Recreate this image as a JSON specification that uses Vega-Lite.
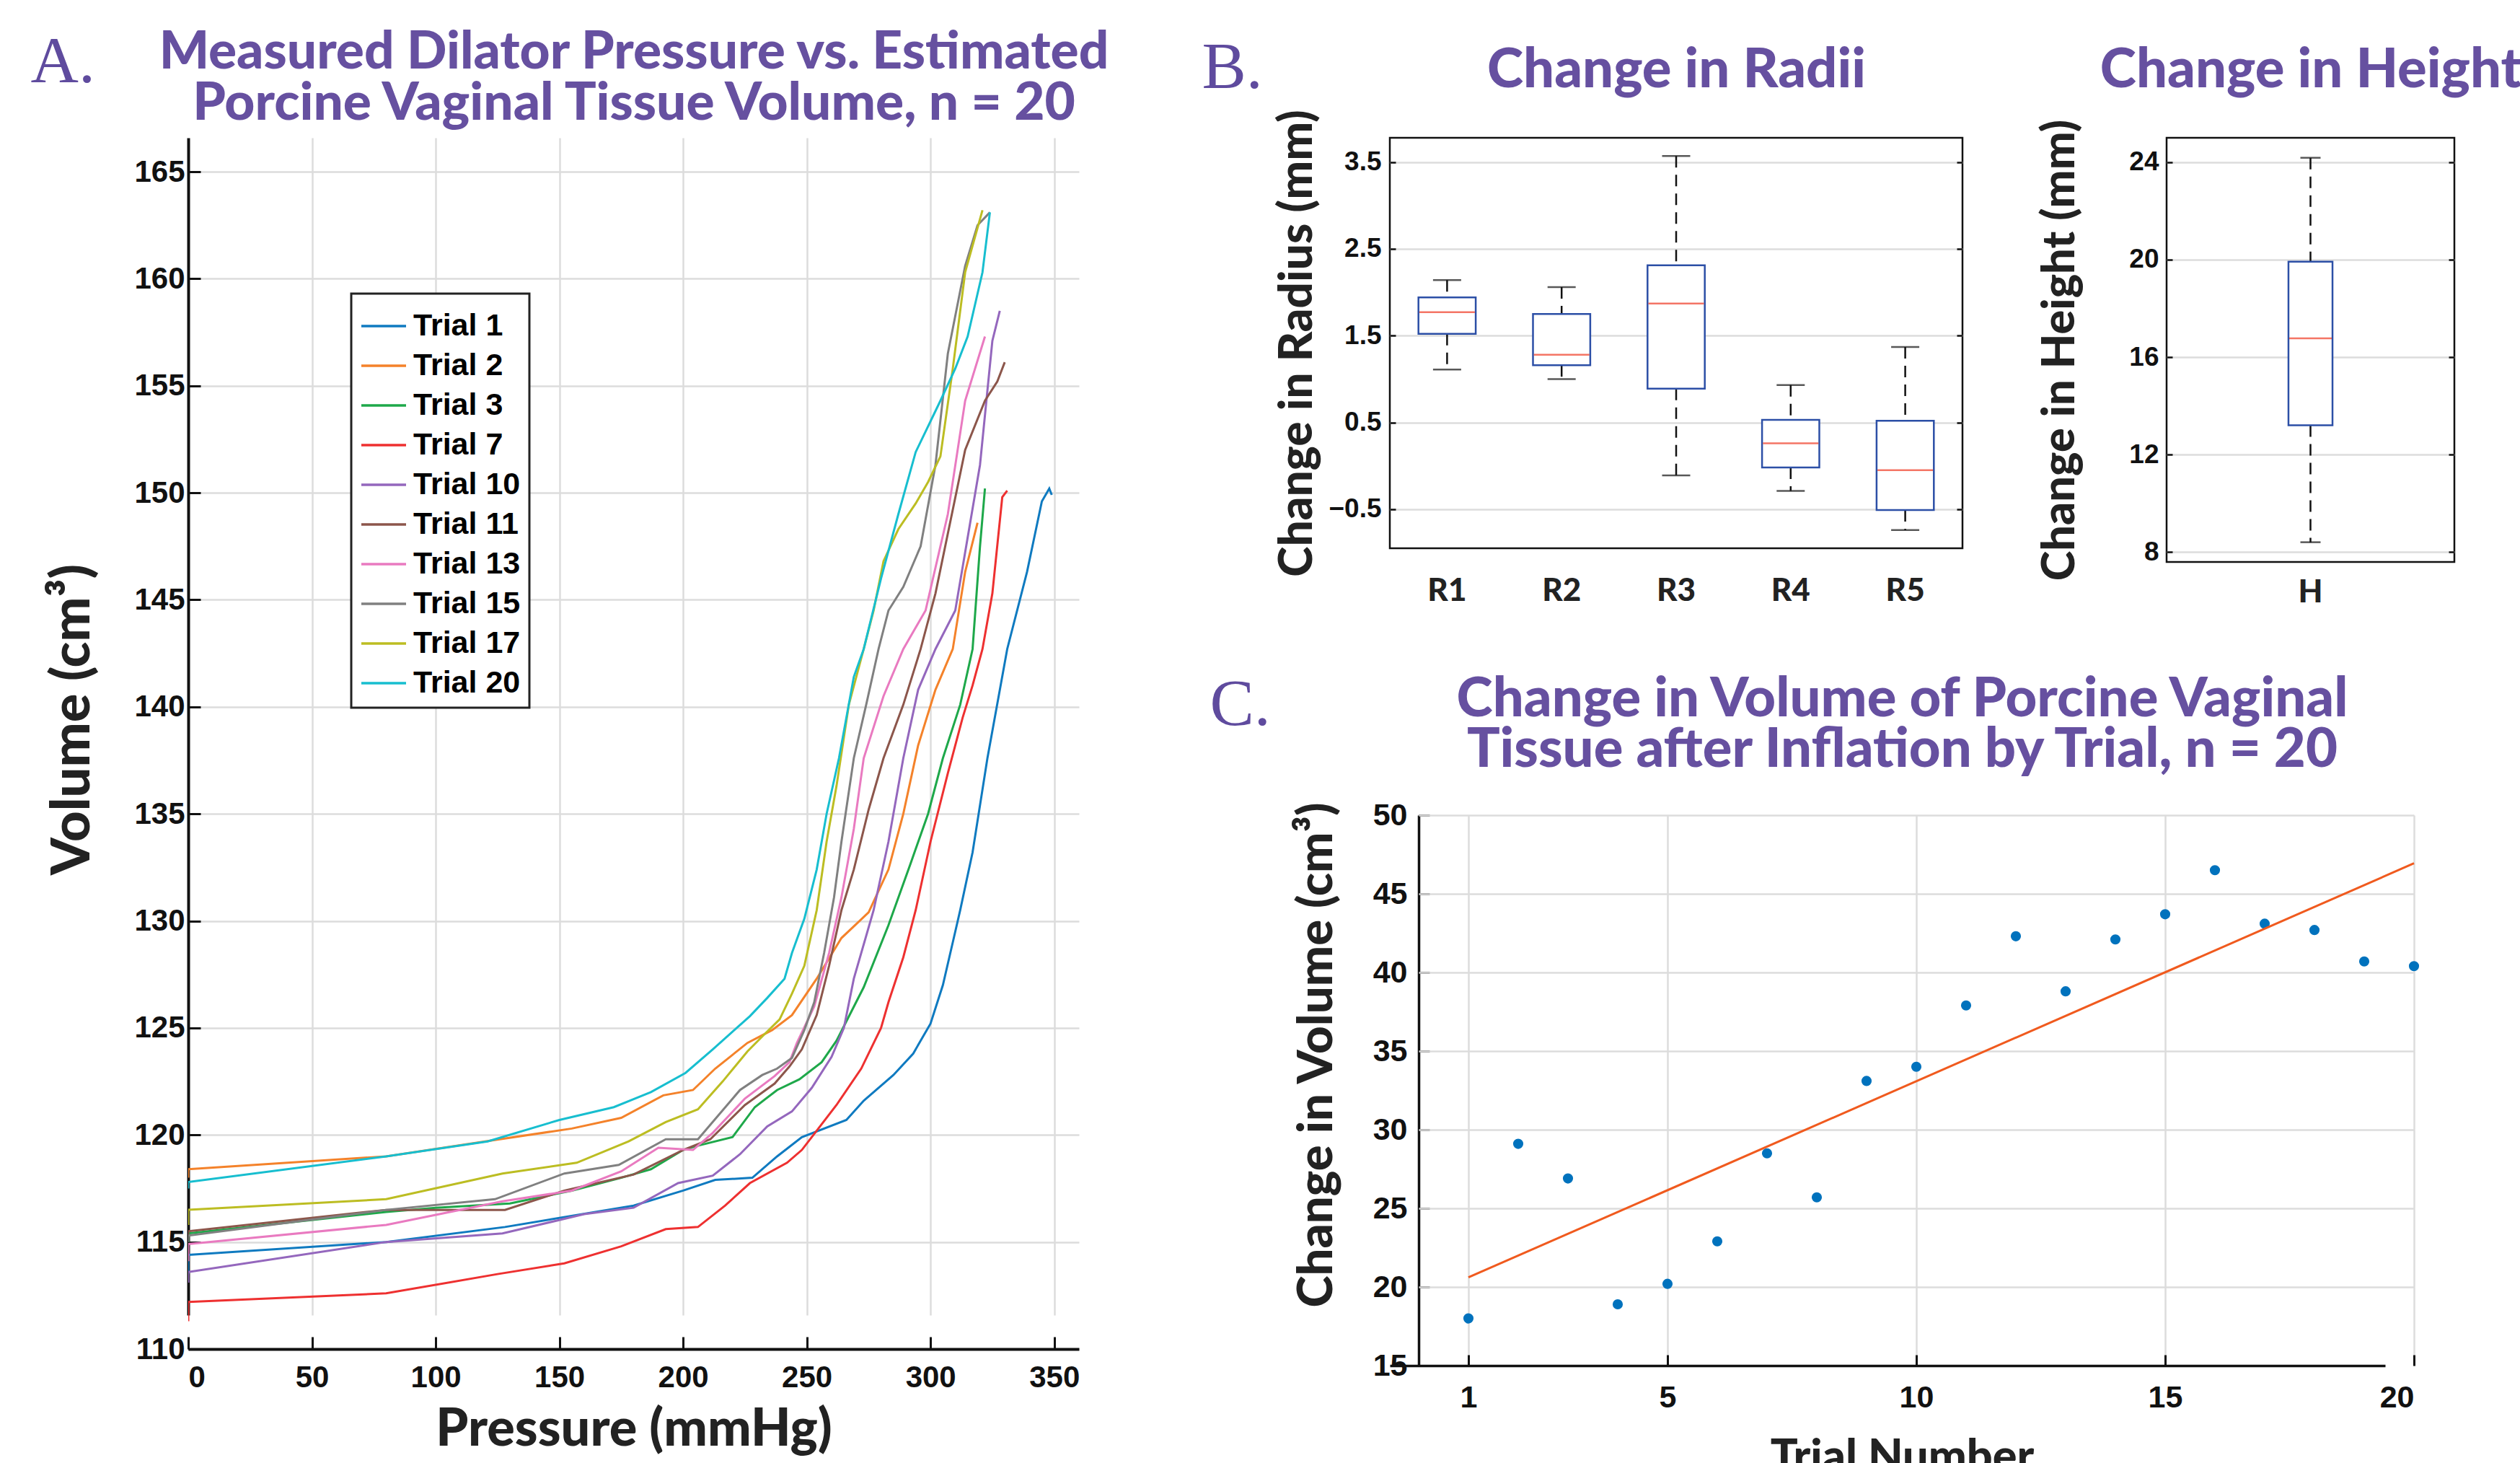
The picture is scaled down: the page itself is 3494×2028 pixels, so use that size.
{
  "$schema": "https://vega.github.io/schema/vega-lite/v6.json",
  "background": "white",
  "padding": {"left": 42, "top": 36, "right": 0, "bottom": 0},
  "columns": 2,
  "align": "none",
  "spacing": 125,
  "config": {
    "font": "Liberation Sans",
    "view": {"stroke": null},
    "axis": {
      "labelFont": "Liberation Sans", "labelFontWeight": "bold", "labelColor": "#111",
      "titleFont": "Lato", "titleFontWeight": 900, "titleColor": "#222",
      "gridColor": "#dcdcdc", "gridWidth": 2.5, "domainColor": "#111", "tickColor": "#111"
    },
    "legend": {"strokeWidth": 3}
  },
  "datasets": {
    "curves": [
      {"trial": "Trial 1", "p": 0, "v": 113.5}, {"trial": "Trial 1", "p": 0, "v": 114.4}, {"trial": "Trial 1", "p": 80, "v": 115.0}, {"trial": "Trial 1", "p": 128, "v": 115.7}, {"trial": "Trial 1", "p": 180, "v": 116.7}, {"trial": "Trial 1", "p": 200, "v": 117.4}, {"trial": "Trial 1", "p": 213, "v": 117.9}, {"trial": "Trial 1", "p": 228, "v": 118.0}, {"trial": "Trial 1", "p": 238, "v": 119.0}, {"trial": "Trial 1", "p": 248, "v": 119.9}, {"trial": "Trial 1", "p": 266, "v": 120.7}, {"trial": "Trial 1", "p": 273, "v": 121.6}, {"trial": "Trial 1", "p": 285, "v": 122.8}, {"trial": "Trial 1", "p": 293, "v": 123.8}, {"trial": "Trial 1", "p": 300, "v": 125.2}, {"trial": "Trial 1", "p": 305, "v": 127.0}, {"trial": "Trial 1", "p": 309, "v": 129.0}, {"trial": "Trial 1", "p": 312, "v": 130.5}, {"trial": "Trial 1", "p": 317, "v": 133.2}, {"trial": "Trial 1", "p": 323, "v": 137.6}, {"trial": "Trial 1", "p": 331, "v": 142.7}, {"trial": "Trial 1", "p": 339, "v": 146.3}, {"trial": "Trial 1", "p": 345, "v": 149.6}, {"trial": "Trial 1", "p": 348, "v": 150.2}, {"trial": "Trial 1", "p": 349, "v": 149.9},
      {"trial": "Trial 2", "p": 0, "v": 118.0}, {"trial": "Trial 2", "p": 0, "v": 118.4}, {"trial": "Trial 2", "p": 80, "v": 119.0}, {"trial": "Trial 2", "p": 120, "v": 119.7}, {"trial": "Trial 2", "p": 155, "v": 120.3}, {"trial": "Trial 2", "p": 175, "v": 120.8}, {"trial": "Trial 2", "p": 192, "v": 121.85}, {"trial": "Trial 2", "p": 204, "v": 122.1}, {"trial": "Trial 2", "p": 213, "v": 123.1}, {"trial": "Trial 2", "p": 226, "v": 124.3}, {"trial": "Trial 2", "p": 236, "v": 124.9}, {"trial": "Trial 2", "p": 244, "v": 125.6}, {"trial": "Trial 2", "p": 254, "v": 127.3}, {"trial": "Trial 2", "p": 264, "v": 129.2}, {"trial": "Trial 2", "p": 275, "v": 130.4}, {"trial": "Trial 2", "p": 283, "v": 132.4}, {"trial": "Trial 2", "p": 289, "v": 135.0}, {"trial": "Trial 2", "p": 295, "v": 138.2}, {"trial": "Trial 2", "p": 302, "v": 140.8}, {"trial": "Trial 2", "p": 309, "v": 142.7}, {"trial": "Trial 2", "p": 314, "v": 146.3}, {"trial": "Trial 2", "p": 319, "v": 148.6},
      {"trial": "Trial 3", "p": 0, "v": 115.0}, {"trial": "Trial 3", "p": 0, "v": 115.4}, {"trial": "Trial 3", "p": 80, "v": 116.4}, {"trial": "Trial 3", "p": 100, "v": 116.6}, {"trial": "Trial 3", "p": 130, "v": 116.8}, {"trial": "Trial 3", "p": 155, "v": 117.4}, {"trial": "Trial 3", "p": 175, "v": 118.0}, {"trial": "Trial 3", "p": 187, "v": 118.4}, {"trial": "Trial 3", "p": 200, "v": 119.3}, {"trial": "Trial 3", "p": 206, "v": 119.5}, {"trial": "Trial 3", "p": 220, "v": 119.9}, {"trial": "Trial 3", "p": 229, "v": 121.3}, {"trial": "Trial 3", "p": 238, "v": 122.1}, {"trial": "Trial 3", "p": 247, "v": 122.6}, {"trial": "Trial 3", "p": 256, "v": 123.4}, {"trial": "Trial 3", "p": 262, "v": 124.4}, {"trial": "Trial 3", "p": 273, "v": 126.9}, {"trial": "Trial 3", "p": 283, "v": 129.8}, {"trial": "Trial 3", "p": 292, "v": 132.7}, {"trial": "Trial 3", "p": 299, "v": 135.0}, {"trial": "Trial 3", "p": 305, "v": 137.6}, {"trial": "Trial 3", "p": 312, "v": 140.1}, {"trial": "Trial 3", "p": 317, "v": 142.7}, {"trial": "Trial 3", "p": 320, "v": 147.5}, {"trial": "Trial 3", "p": 322, "v": 150.2},
      {"trial": "Trial 7", "p": 0, "v": 111.3}, {"trial": "Trial 7", "p": 0, "v": 112.2}, {"trial": "Trial 7", "p": 80, "v": 112.6}, {"trial": "Trial 7", "p": 125, "v": 113.5}, {"trial": "Trial 7", "p": 152, "v": 114.0}, {"trial": "Trial 7", "p": 175, "v": 114.8}, {"trial": "Trial 7", "p": 193, "v": 115.6}, {"trial": "Trial 7", "p": 206, "v": 115.7}, {"trial": "Trial 7", "p": 217, "v": 116.7}, {"trial": "Trial 7", "p": 227, "v": 117.75}, {"trial": "Trial 7", "p": 242, "v": 118.7}, {"trial": "Trial 7", "p": 248, "v": 119.3}, {"trial": "Trial 7", "p": 254, "v": 120.2}, {"trial": "Trial 7", "p": 262, "v": 121.4}, {"trial": "Trial 7", "p": 272, "v": 123.1}, {"trial": "Trial 7", "p": 280, "v": 125.0}, {"trial": "Trial 7", "p": 283, "v": 126.2}, {"trial": "Trial 7", "p": 289, "v": 128.3}, {"trial": "Trial 7", "p": 294, "v": 130.5}, {"trial": "Trial 7", "p": 300, "v": 133.7}, {"trial": "Trial 7", "p": 307, "v": 136.9}, {"trial": "Trial 7", "p": 313, "v": 139.5}, {"trial": "Trial 7", "p": 317, "v": 141.0}, {"trial": "Trial 7", "p": 321, "v": 142.7}, {"trial": "Trial 7", "p": 325, "v": 145.3}, {"trial": "Trial 7", "p": 329, "v": 149.8}, {"trial": "Trial 7", "p": 331, "v": 150.1},
      {"trial": "Trial 10", "p": 0, "v": 113.1}, {"trial": "Trial 10", "p": 0, "v": 113.6}, {"trial": "Trial 10", "p": 80, "v": 115.0}, {"trial": "Trial 10", "p": 127, "v": 115.4}, {"trial": "Trial 10", "p": 160, "v": 116.3}, {"trial": "Trial 10", "p": 180, "v": 116.6}, {"trial": "Trial 10", "p": 198, "v": 117.75}, {"trial": "Trial 10", "p": 212, "v": 118.1}, {"trial": "Trial 10", "p": 223, "v": 119.1}, {"trial": "Trial 10", "p": 234, "v": 120.4}, {"trial": "Trial 10", "p": 244, "v": 121.1}, {"trial": "Trial 10", "p": 252, "v": 122.2}, {"trial": "Trial 10", "p": 260, "v": 123.65}, {"trial": "Trial 10", "p": 265, "v": 125.0}, {"trial": "Trial 10", "p": 269, "v": 127.3}, {"trial": "Trial 10", "p": 277, "v": 130.5}, {"trial": "Trial 10", "p": 283, "v": 133.7}, {"trial": "Trial 10", "p": 289, "v": 137.6}, {"trial": "Trial 10", "p": 295, "v": 140.8}, {"trial": "Trial 10", "p": 302, "v": 142.7}, {"trial": "Trial 10", "p": 310, "v": 144.5}, {"trial": "Trial 10", "p": 320, "v": 151.3}, {"trial": "Trial 10", "p": 325, "v": 157.1}, {"trial": "Trial 10", "p": 328, "v": 158.5},
      {"trial": "Trial 11", "p": 0, "v": 115.2}, {"trial": "Trial 11", "p": 0, "v": 115.5}, {"trial": "Trial 11", "p": 80, "v": 116.5}, {"trial": "Trial 11", "p": 100, "v": 116.5}, {"trial": "Trial 11", "p": 128, "v": 116.5}, {"trial": "Trial 11", "p": 152, "v": 117.4}, {"trial": "Trial 11", "p": 180, "v": 118.15}, {"trial": "Trial 11", "p": 200, "v": 119.3}, {"trial": "Trial 11", "p": 211, "v": 119.8}, {"trial": "Trial 11", "p": 225, "v": 121.4}, {"trial": "Trial 11", "p": 237, "v": 122.4}, {"trial": "Trial 11", "p": 243, "v": 123.2}, {"trial": "Trial 11", "p": 248, "v": 124.0}, {"trial": "Trial 11", "p": 254, "v": 125.6}, {"trial": "Trial 11", "p": 259, "v": 127.9}, {"trial": "Trial 11", "p": 264, "v": 130.5}, {"trial": "Trial 11", "p": 269, "v": 132.4}, {"trial": "Trial 11", "p": 275, "v": 135.2}, {"trial": "Trial 11", "p": 281, "v": 137.6}, {"trial": "Trial 11", "p": 289, "v": 140.1}, {"trial": "Trial 11", "p": 296, "v": 142.7}, {"trial": "Trial 11", "p": 302, "v": 145.3}, {"trial": "Trial 11", "p": 314, "v": 152.0}, {"trial": "Trial 11", "p": 322, "v": 154.3}, {"trial": "Trial 11", "p": 327, "v": 155.2}, {"trial": "Trial 11", "p": 330, "v": 156.1},
      {"trial": "Trial 13", "p": 0, "v": 114.1}, {"trial": "Trial 13", "p": 0, "v": 114.9}, {"trial": "Trial 13", "p": 80, "v": 115.8}, {"trial": "Trial 13", "p": 127, "v": 116.9}, {"trial": "Trial 13", "p": 155, "v": 117.4}, {"trial": "Trial 13", "p": 175, "v": 118.3}, {"trial": "Trial 13", "p": 190, "v": 119.4}, {"trial": "Trial 13", "p": 204, "v": 119.3}, {"trial": "Trial 13", "p": 212, "v": 120.1}, {"trial": "Trial 13", "p": 225, "v": 121.7}, {"trial": "Trial 13", "p": 237, "v": 122.75}, {"trial": "Trial 13", "p": 243, "v": 123.4}, {"trial": "Trial 13", "p": 246, "v": 124.3}, {"trial": "Trial 13", "p": 253, "v": 126.0}, {"trial": "Trial 13", "p": 259, "v": 128.5}, {"trial": "Trial 13", "p": 264, "v": 131.1}, {"trial": "Trial 13", "p": 269, "v": 134.3}, {"trial": "Trial 13", "p": 273, "v": 137.6}, {"trial": "Trial 13", "p": 281, "v": 140.5}, {"trial": "Trial 13", "p": 289, "v": 142.7}, {"trial": "Trial 13", "p": 298, "v": 144.5}, {"trial": "Trial 13", "p": 307, "v": 149.0}, {"trial": "Trial 13", "p": 314, "v": 154.3}, {"trial": "Trial 13", "p": 322, "v": 157.3},
      {"trial": "Trial 15", "p": 0, "v": 115.0}, {"trial": "Trial 15", "p": 0, "v": 115.3}, {"trial": "Trial 15", "p": 80, "v": 116.5}, {"trial": "Trial 15", "p": 124, "v": 117.0}, {"trial": "Trial 15", "p": 152, "v": 118.2}, {"trial": "Trial 15", "p": 174, "v": 118.6}, {"trial": "Trial 15", "p": 193, "v": 119.8}, {"trial": "Trial 15", "p": 206, "v": 119.8}, {"trial": "Trial 15", "p": 223, "v": 122.1}, {"trial": "Trial 15", "p": 232, "v": 122.8}, {"trial": "Trial 15", "p": 238, "v": 123.1}, {"trial": "Trial 15", "p": 244, "v": 123.6}, {"trial": "Trial 15", "p": 249, "v": 124.9}, {"trial": "Trial 15", "p": 253, "v": 126.2}, {"trial": "Trial 15", "p": 257, "v": 128.5}, {"trial": "Trial 15", "p": 261, "v": 131.1}, {"trial": "Trial 15", "p": 264, "v": 133.7}, {"trial": "Trial 15", "p": 269, "v": 137.6}, {"trial": "Trial 15", "p": 274, "v": 140.1}, {"trial": "Trial 15", "p": 279, "v": 142.7}, {"trial": "Trial 15", "p": 283, "v": 144.5}, {"trial": "Trial 15", "p": 289, "v": 145.6}, {"trial": "Trial 15", "p": 296, "v": 147.5}, {"trial": "Trial 15", "p": 302, "v": 151.3}, {"trial": "Trial 15", "p": 307, "v": 156.5}, {"trial": "Trial 15", "p": 314, "v": 160.6}, {"trial": "Trial 15", "p": 319, "v": 162.5}, {"trial": "Trial 15", "p": 324, "v": 163.1},
      {"trial": "Trial 17", "p": 0, "v": 115.8}, {"trial": "Trial 17", "p": 0, "v": 116.5}, {"trial": "Trial 17", "p": 80, "v": 117.0}, {"trial": "Trial 17", "p": 127, "v": 118.2}, {"trial": "Trial 17", "p": 157, "v": 118.7}, {"trial": "Trial 17", "p": 178, "v": 119.7}, {"trial": "Trial 17", "p": 193, "v": 120.6}, {"trial": "Trial 17", "p": 206, "v": 121.2}, {"trial": "Trial 17", "p": 216, "v": 122.5}, {"trial": "Trial 17", "p": 226, "v": 123.9}, {"trial": "Trial 17", "p": 232, "v": 124.6}, {"trial": "Trial 17", "p": 239, "v": 125.4}, {"trial": "Trial 17", "p": 244, "v": 126.6}, {"trial": "Trial 17", "p": 249, "v": 127.9}, {"trial": "Trial 17", "p": 254, "v": 130.5}, {"trial": "Trial 17", "p": 258, "v": 133.7}, {"trial": "Trial 17", "p": 262, "v": 136.3}, {"trial": "Trial 17", "p": 267, "v": 140.1}, {"trial": "Trial 17", "p": 273, "v": 142.7}, {"trial": "Trial 17", "p": 277, "v": 144.5}, {"trial": "Trial 17", "p": 281, "v": 146.8}, {"trial": "Trial 17", "p": 287, "v": 148.3}, {"trial": "Trial 17", "p": 294, "v": 149.5}, {"trial": "Trial 17", "p": 299, "v": 150.5}, {"trial": "Trial 17", "p": 304, "v": 151.7}, {"trial": "Trial 17", "p": 309, "v": 155.8}, {"trial": "Trial 17", "p": 314, "v": 160.3}, {"trial": "Trial 17", "p": 321, "v": 163.2},
      {"trial": "Trial 20", "p": 0, "v": 117.5}, {"trial": "Trial 20", "p": 0, "v": 117.8}, {"trial": "Trial 20", "p": 80, "v": 119.0}, {"trial": "Trial 20", "p": 121, "v": 119.7}, {"trial": "Trial 20", "p": 150, "v": 120.7}, {"trial": "Trial 20", "p": 172, "v": 121.3}, {"trial": "Trial 20", "p": 187, "v": 122.0}, {"trial": "Trial 20", "p": 201, "v": 122.9}, {"trial": "Trial 20", "p": 212, "v": 124.0}, {"trial": "Trial 20", "p": 227, "v": 125.55}, {"trial": "Trial 20", "p": 234, "v": 126.4}, {"trial": "Trial 20", "p": 241, "v": 127.3}, {"trial": "Trial 20", "p": 244, "v": 128.5}, {"trial": "Trial 20", "p": 249, "v": 130.1}, {"trial": "Trial 20", "p": 254, "v": 132.4}, {"trial": "Trial 20", "p": 258, "v": 135.0}, {"trial": "Trial 20", "p": 263, "v": 137.6}, {"trial": "Trial 20", "p": 269, "v": 141.4}, {"trial": "Trial 20", "p": 273, "v": 142.7}, {"trial": "Trial 20", "p": 280, "v": 146.0}, {"trial": "Trial 20", "p": 287, "v": 149.0}, {"trial": "Trial 20", "p": 294, "v": 151.9}, {"trial": "Trial 20", "p": 304, "v": 154.3}, {"trial": "Trial 20", "p": 310, "v": 155.8}, {"trial": "Trial 20", "p": 315, "v": 157.3}, {"trial": "Trial 20", "p": 321, "v": 160.3}, {"trial": "Trial 20", "p": 324, "v": 163.1}
    ],
    "radii": [
      {"r": "R1", "min": 1.11, "q1": 1.52, "med": 1.77, "q3": 1.94, "max": 2.14},
      {"r": "R2", "min": 1.00, "q1": 1.16, "med": 1.28, "q3": 1.75, "max": 2.06},
      {"r": "R3", "min": -0.11, "q1": 0.89, "med": 1.87, "q3": 2.31, "max": 3.57},
      {"r": "R4", "min": -0.29, "q1": -0.02, "med": 0.26, "q3": 0.53, "max": 0.93},
      {"r": "R5", "min": -0.74, "q1": -0.51, "med": -0.05, "q3": 0.52, "max": 1.37}
    ],
    "height": [
      {"h": "H", "min": 8.41, "q1": 13.21, "med": 16.77, "q3": 19.92, "max": 24.18}
    ],
    "volume": [
      {"trial": 1, "vol": 18.0}, {"trial": 2, "vol": 29.1}, {"trial": 3, "vol": 26.9}, {"trial": 4, "vol": 18.9}, {"trial": 5, "vol": 20.2},
      {"trial": 6, "vol": 22.9}, {"trial": 7, "vol": 28.5}, {"trial": 8, "vol": 25.7}, {"trial": 9, "vol": 33.1}, {"trial": 10, "vol": 34.0},
      {"trial": 11, "vol": 37.9}, {"trial": 12, "vol": 42.3}, {"trial": 13, "vol": 38.8}, {"trial": 14, "vol": 42.1}, {"trial": 15, "vol": 43.7},
      {"trial": 16, "vol": 46.5}, {"trial": 17, "vol": 43.1}, {"trial": 18, "vol": 42.7}, {"trial": 19, "vol": 40.7}, {"trial": 20, "vol": 40.4}
    ]
  },
  "concat": [
    {
      "width": 1235, "height": 1679,
      "data": {"name": "curves"},
      "resolve": {"axis": {"x": "independent", "y": "independent"}},
      "layer": [
        {
          "mark": {"type": "line", "strokeWidth": 3, "clip": true},
          "encoding": {
            "x": {"field": "p", "type": "quantitative", "scale": {"domain": [0, 360], "nice": false},
              "axis": {"values": [0, 50, 100, 150, 200, 250, 300, 350], "title": "Pressure (mmHg)", "titleFontSize": 72, "labelFontSize": 42, "tickSize": -17, "tickWidth": 3, "labelPadding": 36, "domainWidth": 4, "titlePadding": 16, "grid": false}},
            "y": {"field": "v", "type": "quantitative", "scale": {"domain": [110, 166.584], "nice": false, "zero": false},
              "axis": {"values": [110, 115, 120, 125, 130, 135, 140, 145, 150, 155, 160, 165], "title": "Volume (cm³)", "titleFontSize": 74, "labelFontSize": 42, "tickSize": -17, "tickWidth": 3, "labelPadding": 22, "domain": false, "titlePadding": 46, "titleY": 806, "grid": true}},
            "color": {"field": "trial", "type": "nominal",
              "scale": {"domain": ["Trial 1", "Trial 2", "Trial 3", "Trial 7", "Trial 10", "Trial 11", "Trial 13", "Trial 15", "Trial 17", "Trial 20"],
                        "range": ["#0F7AC0", "#F4822A", "#1EA84A", "#EE3030", "#9467BD", "#8C564B", "#E97AC0", "#808080", "#BCBD22", "#17BECF"]},
              "legend": {"title": null, "orient": "none", "legendX": 226, "legendY": 216, "symbolType": "stroke", "symbolSize": 3844, "symbolStrokeWidth": 3.5,
                "labelFont": "Liberation Sans", "labelFontWeight": "bold", "labelFontSize": 43, "labelColor": "#000", "labelLimit": 400, "labelOffset": 8,
                "strokeColor": "#222", "fillColor": "white", "padding": 12, "rowPadding": 0}}
          }
        },
        {
          "mark": {"type": "point", "opacity": 0},
          "encoding": {
            "x": {"field": "p", "type": "quantitative", "scale": {"domain": [0, 360], "nice": false},
              "axis": {"values": [50, 100, 150, 200, 250, 300, 350], "title": null, "labels": false, "domain": false, "grid": false, "tickSize": -1632, "tickWidth": 2.5, "tickColor": "#dcdcdc"}},
            "y": {"field": "v", "type": "quantitative", "scale": {"domain": [110, 166.584], "nice": false, "zero": false},
              "axis": {"orient": "right", "title": "A.", "titleFont": "Liberation Serif", "titleFontWeight": "normal", "titleFontSize": 92, "titleColor": "#5F4B9E", "titleAngle": 0, "titleAlign": "left", "titleBaseline": "alphabetic", "titleX": -1454, "titleY": -78, "labels": false, "ticks": false, "domain": false, "grid": false}}
          }
        },
        {
          "mark": {"type": "point", "opacity": 0},
          "encoding": {
            "x": {"field": "p", "type": "quantitative", "scale": {"domain": [0, 360], "nice": false},
              "axis": {"values": [0], "title": null, "labels": false, "domain": false, "grid": false, "tickSize": -1632, "tickWidth": 4, "tickColor": "#111"}},
            "y": {"field": "v", "type": "quantitative", "scale": {"domain": [110, 166.584], "nice": false, "zero": false}, "axis": null}
          }
        },
        {
          "mark": {"type": "point", "opacity": 0},
          "encoding": {
            "x": {"field": "p", "type": "quantitative", "scale": {"domain": [0, 360], "nice": false},
              "axis": {"orient": "top", "title": ["Measured Dilator Pressure vs. Estimated", "Porcine Vaginal Tissue Volume, n = 20"], "titleFont": "Lato", "titleFontWeight": 900, "titleFontSize": 73, "titleLineHeight": 71, "titleColor": "#6650A0", "titlePadding": 11, "labels": false, "ticks": false, "domain": false, "grid": false}},
            "y": {"field": "v", "type": "quantitative", "scale": {"domain": [110, 166.584], "nice": false, "zero": false}, "axis": null}
          }
        }
      ]
    },
    {
      "columns": 1,
      "align": "none",
      "spacing": 85,
      "concat": [
        {
          "spacing": 100,
          "hconcat": [
            {
              "width": 794, "height": 569,
              "view": {"stroke": "#111", "strokeWidth": 2.5},
              "data": {"name": "radii"},
              "resolve": {"axis": {"x": "independent", "y": "independent"}},
              "layer": [
                {"mark": {"type": "rule", "strokeDash": [16, 10], "strokeWidth": 2.5, "color": "#111"},
                 "encoding": {
                   "x": {"field": "r", "type": "nominal", "scale": {"paddingInner": 0, "paddingOuter": 0},
                     "axis": {"title": null, "labelAngle": 0, "labelFont": "Lato", "labelFontWeight": 900, "labelFontSize": 44, "labelColor": "#222", "ticks": false, "domain": false, "labelPadding": 37, "grid": false}},
                   "y": {"field": "max", "type": "quantitative", "scale": {"domain": [-0.95, 3.78], "nice": false, "zero": false},
                     "axis": {"title": "Change in Radius (mm)", "titleFontSize": 64, "titlePadding": 10, "values": [-0.5, 0.5, 1.5, 2.5, 3.5], "format": ".1f", "labelFontSize": 37, "tickSize": -8, "tickWidth": 2.5, "labelPadding": 20, "domain": false, "grid": true}},
                   "y2": {"field": "q3"}}},
                {"mark": {"type": "rule", "strokeDash": [16, 10], "strokeWidth": 2.5, "color": "#111"},
                 "encoding": {
                   "x": {"field": "r", "type": "nominal", "scale": {"paddingInner": 0, "paddingOuter": 0},
                     "axis": {"orient": "top", "title": "Change in Radii", "titleFont": "Lato", "titleFontWeight": 900, "titleFontSize": 76, "titleColor": "#6650A0", "titlePadding": 55, "labels": false, "ticks": false, "domain": false, "grid": false}},
                   "y": {"field": "q1", "type": "quantitative", "scale": {"domain": [-0.95, 3.78], "nice": false, "zero": false},
                     "axis": {"orient": "right", "title": "B.", "titleFont": "Liberation Serif", "titleFontWeight": "normal", "titleFontSize": 92, "titleColor": "#5F4B9E", "titleAngle": 0, "titleAlign": "left", "titleBaseline": "alphabetic", "titleX": -1055, "titleY": -70, "values": [-0.5, 0.5, 1.5, 2.5, 3.5], "labels": false, "tickSize": -8, "tickWidth": 2.5, "domain": false, "grid": false}},
                   "y2": {"field": "min"}}},
                {"mark": {"type": "tick", "size": 39, "thickness": 2.5, "color": "#111", "orient": "horizontal"},
                 "encoding": {
                   "x": {"field": "r", "type": "nominal", "scale": {"paddingInner": 0, "paddingOuter": 0}, "axis": null},
                   "y": {"field": "max", "type": "quantitative", "scale": {"domain": [-0.95, 3.78], "nice": false, "zero": false}, "axis": null}}},
                {"mark": {"type": "tick", "size": 39, "thickness": 2.5, "color": "#111", "orient": "horizontal"},
                 "encoding": {
                   "x": {"field": "r", "type": "nominal", "scale": {"paddingInner": 0, "paddingOuter": 0}, "axis": null},
                   "y": {"field": "min", "type": "quantitative", "scale": {"domain": [-0.95, 3.78], "nice": false, "zero": false}, "axis": null}}},
                {"mark": {"type": "bar", "width": {"band": 0.5}, "fill": "white", "stroke": "#2C4FA6", "strokeWidth": 2.5},
                 "encoding": {
                   "x": {"field": "r", "type": "nominal", "scale": {"paddingInner": 0, "paddingOuter": 0}, "axis": null},
                   "y": {"field": "q1", "type": "quantitative", "scale": {"domain": [-0.95, 3.78], "nice": false, "zero": false}, "axis": null}, "y2": {"field": "q3"}}},
                {"mark": {"type": "tick", "size": 77, "thickness": 2.5, "color": "#F03A24", "orient": "horizontal"},
                 "encoding": {
                   "x": {"field": "r", "type": "nominal", "scale": {"paddingInner": 0, "paddingOuter": 0}, "axis": null},
                   "y": {"field": "med", "type": "quantitative", "scale": {"domain": [-0.95, 3.78], "nice": false, "zero": false}, "axis": null}}}
              ]
            },
            {
              "width": 399, "height": 588,
              "view": {"stroke": "#111", "strokeWidth": 2.5},
              "data": {"name": "height"},
              "resolve": {"axis": {"x": "independent", "y": "independent"}},
              "layer": [
                {"mark": {"type": "rule", "strokeDash": [16, 10], "strokeWidth": 2.5, "color": "#111"},
                 "encoding": {
                   "x": {"field": "h", "type": "nominal", "scale": {"paddingInner": 0, "paddingOuter": 0},
                     "axis": {"title": null, "labelAngle": 0, "labelFont": "Lato", "labelFontWeight": 900, "labelFontSize": 44, "labelColor": "#222", "ticks": false, "domain": false, "labelPadding": 20, "grid": false}},
                   "y": {"field": "max", "type": "quantitative", "scale": {"domain": [7.6, 25], "nice": false, "zero": false},
                     "axis": {"title": "Change in Height (mm)", "titleFontSize": 63, "titlePadding": 63, "values": [8, 12, 16, 20, 24], "labelFontSize": 37, "tickSize": -8, "tickWidth": 2.5, "labelPadding": 19, "domain": false, "grid": true}},
                   "y2": {"field": "q3"}}},
                {"mark": {"type": "rule", "strokeDash": [16, 10], "strokeWidth": 2.5, "color": "#111"},
                 "encoding": {
                   "x": {"field": "h", "type": "nominal", "scale": {"paddingInner": 0, "paddingOuter": 0},
                     "axis": {"orient": "top", "title": "Change in Height", "titleFont": "Lato", "titleFontWeight": 900, "titleFontSize": 76, "titleColor": "#6650A0", "titlePadding": 55, "labels": false, "ticks": false, "domain": false, "grid": false}},
                   "y": {"field": "q1", "type": "quantitative", "scale": {"domain": [7.6, 25], "nice": false, "zero": false},
                     "axis": {"orient": "right", "title": null, "values": [8, 12, 16, 20, 24], "labels": false, "tickSize": -8, "tickWidth": 2.5, "domain": false, "grid": false}},
                   "y2": {"field": "min"}}},
                {"mark": {"type": "tick", "size": 28, "thickness": 2.5, "color": "#111", "orient": "horizontal"},
                 "encoding": {
                   "x": {"field": "h", "type": "nominal", "scale": {"paddingInner": 0, "paddingOuter": 0}, "axis": null},
                   "y": {"field": "max", "type": "quantitative", "scale": {"domain": [7.6, 25], "nice": false, "zero": false}, "axis": null}}},
                {"mark": {"type": "tick", "size": 28, "thickness": 2.5, "color": "#111", "orient": "horizontal"},
                 "encoding": {
                   "x": {"field": "h", "type": "nominal", "scale": {"paddingInner": 0, "paddingOuter": 0}, "axis": null},
                   "y": {"field": "min", "type": "quantitative", "scale": {"domain": [7.6, 25], "nice": false, "zero": false}, "axis": null}}},
                {"mark": {"type": "bar", "width": {"band": 0.153}, "fill": "white", "stroke": "#2C4FA6", "strokeWidth": 2.5},
                 "encoding": {
                   "x": {"field": "h", "type": "nominal", "scale": {"paddingInner": 0, "paddingOuter": 0}, "axis": null},
                   "y": {"field": "q1", "type": "quantitative", "scale": {"domain": [7.6, 25], "nice": false, "zero": false}, "axis": null}, "y2": {"field": "q3"}}},
                {"mark": {"type": "tick", "size": 59, "thickness": 2.5, "color": "#F03A24", "orient": "horizontal"},
                 "encoding": {
                   "x": {"field": "h", "type": "nominal", "scale": {"paddingInner": 0, "paddingOuter": 0}, "axis": null},
                   "y": {"field": "med", "type": "quantitative", "scale": {"domain": [7.6, 25], "nice": false, "zero": false}, "axis": null}}}
              ]
            }
          ]
        },
        {
          "width": 1420, "height": 763,
          "data": {"name": "volume"},
          "resolve": {"axis": {"x": "independent", "y": "independent"}},
          "layer": [
            {"mark": {"type": "circle", "size": 200, "color": "#0072BD", "opacity": 1},
             "encoding": {
               "x": {"field": "trial", "type": "quantitative", "scale": {"domain": [-0.5797, 20], "nice": false, "zero": false},
                 "axis": {"values": [1, 5, 10, 15, 20], "title": "Trial Number", "titleFontSize": 63, "titlePadding": 30, "labelFontSize": 43, "tickSize": -15, "tickWidth": 3, "labelPadding": 38, "domain": false, "grid": true}},
               "y": {"field": "vol", "type": "quantitative", "scale": {"domain": [15, 50], "nice": false, "zero": false},
                 "axis": {"offset": -40, "values": [15, 20, 25, 30, 35, 40, 45, 50], "title": "Change in Volume (cm³)", "titleFontSize": 67, "titlePadding": 43, "titleY": 332, "labelFontSize": 43, "tickSize": -15, "tickWidth": 3, "labelPadding": 31, "domainWidth": 3.5, "grid": false}}}},
            {"transform": [{"regression": "vol", "on": "trial"}],
             "mark": {"type": "line", "color": "#F05A1E", "strokeWidth": 3},
             "encoding": {
               "x": {"field": "trial", "type": "quantitative", "scale": {"domain": [-0.5797, 20], "nice": false, "zero": false},
                 "axis": {"orient": "top", "title": ["Change in Volume of Porcine Vaginal", "Tissue after Inflation by Trial, n = 20"], "titleFont": "Lato", "titleFontWeight": 900, "titleFontSize": 76, "titleLineHeight": 70, "titleColor": "#6650A0", "titlePadding": 52, "labels": false, "ticks": false, "domain": false, "grid": false}},
               "y": {"field": "vol", "type": "quantitative", "scale": {"domain": [15, 50], "nice": false, "zero": false},
                 "axis": {"orient": "right", "title": "C.", "titleFont": "Liberation Serif", "titleFontWeight": "normal", "titleFontSize": 92, "titleColor": "#5F4B9E", "titleAngle": 0, "titleAlign": "left", "titleBaseline": "alphabetic", "titleX": -1670, "titleY": -126, "labels": false, "ticks": false, "domain": false, "grid": false}}}},
            {"mark": {"type": "point", "opacity": 0},
             "encoding": {
               "x": {"field": "trial", "type": "quantitative", "scale": {"domain": [-0.5797, 20], "nice": false, "zero": false}, "axis": null},
               "y": {"field": "vol", "type": "quantitative", "scale": {"domain": [15, 50], "nice": false, "zero": false},
                 "axis": {"offset": -40, "values": [20, 25, 30, 35, 40, 45, 50], "title": null, "labels": false, "domain": false, "grid": false, "tickSize": -1380, "tickWidth": 2.5, "tickColor": "#dcdcdc"}}}},
            {"mark": {"type": "point", "opacity": 0},
             "encoding": {
               "x": {"field": "trial", "type": "quantitative", "scale": {"domain": [-0.5797, 20], "nice": false, "zero": false}, "axis": null},
               "y": {"field": "vol", "type": "quantitative", "scale": {"domain": [15, 50], "nice": false, "zero": false},
                 "axis": {"offset": -40, "values": [15], "title": null, "labels": false, "domain": false, "grid": false, "tickSize": -1380, "tickWidth": 3.5, "tickColor": "#111"}}}}
          ]
        }
      ]
    }
  ]
}
